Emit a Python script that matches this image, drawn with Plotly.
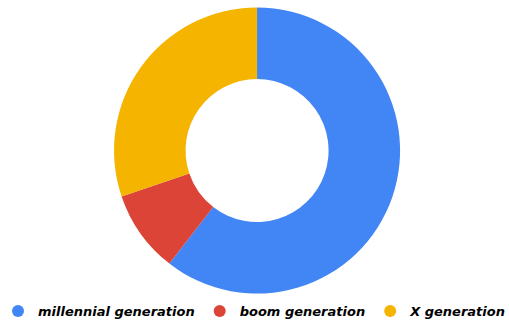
import plotly.graph_objects as go

labels = ["millennial generation", "boom generation", "X generation"]
values = [60.5, 9.3, 30.2]
colors = ["#4285F4", "#DB4437", "#F4B400"]

fig = go.Figure()
fig.add_trace(go.Pie(
    labels=labels, values=values, hole=0.5, sort=False, direction="clockwise",
    rotation=0, marker=dict(colors=colors, line=dict(width=0)),
    textinfo="none", showlegend=False, hoverinfo="label+percent",
    domain=dict(x=[0.224, 0.786], y=[0.081, 0.978]),
))
for lab, col in zip(labels, colors):
    fig.add_trace(go.Scatter(x=[None], y=[None], mode="markers", name=lab,
                             marker=dict(symbol="circle", size=12, color=col)))

fig.update_layout(
    width=509, height=320, margin=dict(l=0, r=0, t=0, b=0, autoexpand=False),
    paper_bgcolor="white", plot_bgcolor="white",
    xaxis=dict(visible=False), yaxis=dict(visible=False),
    legend=dict(orientation="h", x=0.5, xanchor="center", y=0.028, yanchor="middle",
                font=dict(family="DejaVu Sans", size=13, color="#000", weight="bold", style="italic"),
                itemwidth=30, tracegroupgap=0),
)
fig.write_html("out.html")
